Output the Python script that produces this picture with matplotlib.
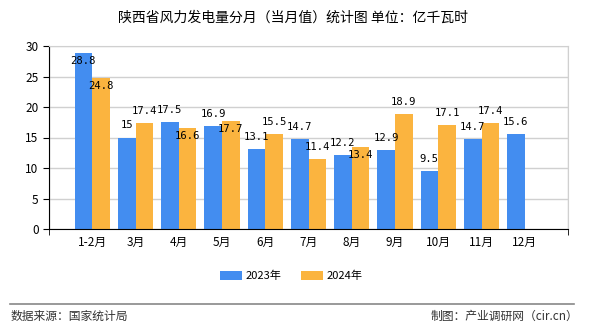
import matplotlib
matplotlib.use("Agg")
import matplotlib.pyplot as plt
import numpy as np

plt.rcParams['font.family'] = ['Noto Sans CJK SC', 'DejaVu Sans']

# 陕西省风力发电量（亿千瓦时）
months = ["1-2月", "3月", "4月", "5月", "6月", "7月", "8月", "9月", "10月", "11月", "12月"]
v2023 = [28.8, 15, 17.5, 16.9, 13.1, 14.7, 12.2, 12.9, 9.5, 14.7, 15.6]
v2024 = [24.8, 17.4, 16.6, 17.7, 15.5, 11.4, 13.4, 18.9, 17.1, 17.4, None]

# label placement: 1 = above bar top, -1 = just below
pos2023 = [-1, 1, 1, 1, 1, 1, 1, 1, 1, 1, 1]
pos2024 = [-1, 1, -1, -1, 1, 1, -1, 1, 1, 1, 1]

blue = "#438df0"
orange = "#fbb43f"

fig = plt.figure(figsize=(5.9, 3.3), dpi=100)
ax = fig.add_axes([49/590, 1 - 229/330, 519/590, 183/330])

x = np.arange(1, len(months) + 1)
w = 0.41
ax.bar(x - w/2, v2023, w, color=blue, label="2023年", zorder=2)
y24 = [np.nan if v is None else v for v in v2024]
ax.bar(x + w/2, y24, w, color=orange, label="2024年", zorder=2)

def label(xs, vals, flags):
    for xi, v, f in zip(xs, vals, flags):
        if v is None:
            continue
        txt = "%g" % v
        off = 12 if f > 0 else -8
        ax.annotate(txt, (xi, v), xytext=(0, off), textcoords="offset pixels",
                    ha="center", va="center", fontsize=7.6, family="DejaVu Sans Mono", zorder=3)

label(x - w/2, v2023, pos2023)
label(x + w/2, v2024, pos2024)

ax.set_xlim(0, 12)
ax.set_ylim(0, 30)
ax.set_yticks(range(0, 31, 5))
ax.set_xticks(range(0, 13), minor=True)
ax.set_xticks(x)
ax.set_xticklabels(months, fontsize=8.5)
ax.tick_params(axis="y", labelsize=8.5, length=4, color="black")
ax.tick_params(axis="x", which="major", length=0, pad=5)
ax.tick_params(axis="x", which="minor", length=4, color="black")
ax.grid(True, which="minor", axis="x", color="#d0d0d0", lw=1, zorder=0)
ax.grid(True, which="major", axis="y", color="#d0d0d0", lw=1, zorder=0)
for s in ["top", "right"]:
    ax.spines[s].set_color("#d0d0d0")
ax.spines["left"].set_color("black")
ax.spines["bottom"].set_color("black")

fig.text(293/590, 1 - 18/330, "陕西省风力发电量分月（当月值）统计图 单位：亿千瓦时",
         ha="center", va="center", fontsize=10)

fig.legend(loc="center", bbox_to_anchor=(291/590, 1 - 276/330), ncol=2, frameon=False,
           fontsize=8, handlelength=2, handleheight=0.9, columnspacing=1.8, handletextpad=0.3)

fig.add_artist(plt.Line2D([10/590, 574/590], [1 - 304/330, 1 - 304/330], color="#888888", lw=1.2))
fig.text(11/590, 1 - 316/330, "数据来源：国家统计局", ha="left", va="center", fontsize=8.5, color="#333333")
fig.text(578/590, 1 - 316/330, "制图：产业调研网（cir.cn）", ha="right", va="center", fontsize=8.5, color="#333333")

fig.savefig("out.png", dpi=100)
